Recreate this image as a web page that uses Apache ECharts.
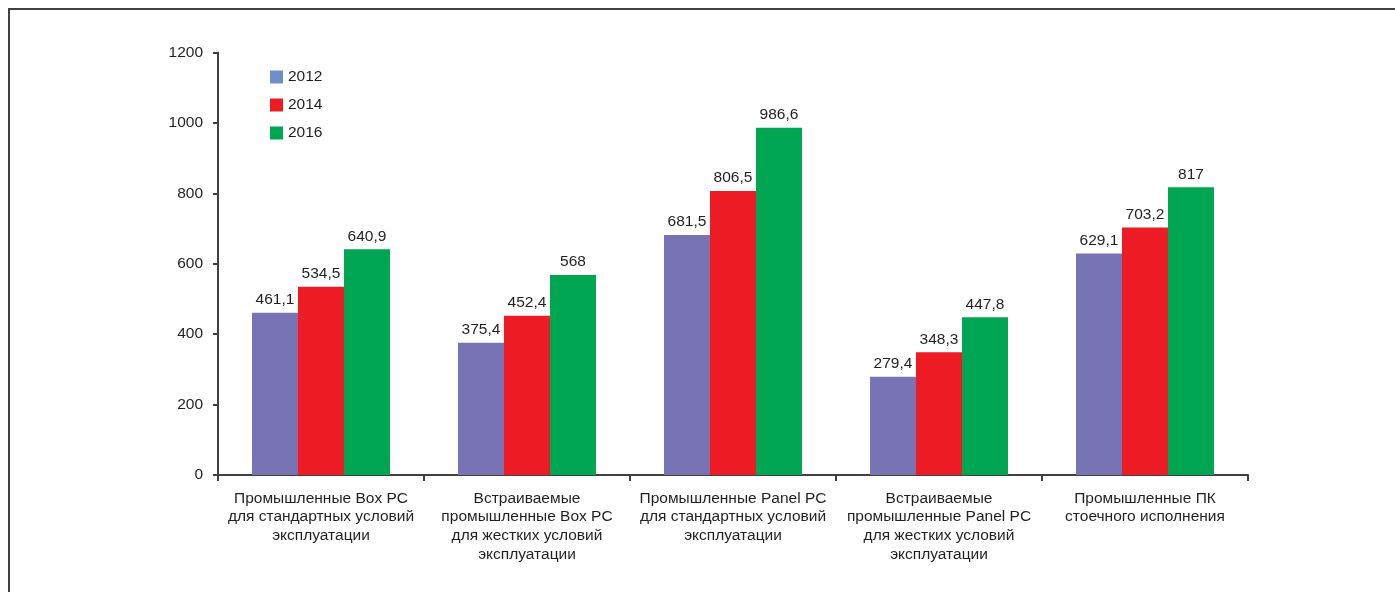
<!DOCTYPE html>
<html><head><meta charset="utf-8">
<script src="https://cdn.jsdelivr.net/npm/echarts@6/dist/echarts.min.js"></script>
<style>html,body{margin:0;padding:0;background:#fff}#c{width:1395px;height:592px}</style>
</head><body><div id="c"></div>
<script>
const categories = [
  "Промышленные Box PC\nдля стандартных условий\nэксплуатации",
  "Встраиваемые\nпромышленные Box PC\nдля жестких условий\nэксплуатации",
  "Промышленные Panel PC\nдля стандартных условий\nэксплуатации",
  "Встраиваемые\nпромышленные Panel PC\nдля жестких условий\nэксплуатации",
  "Промышленные ПК\nстоечного исполнения"
];
const seriesNames = ["2012", "2014", "2016"];
const values2012 = [461.1, 375.4, 681.5, 279.4, 629.1];
const values2014 = [534.5, 452.4, 806.5, 348.3, 703.2];
const values2016 = [640.9, 568, 986.6, 447.8, 817];
const yTicks = [0, 200, 400, 600, 800, 1000, 1200];

const barColors = ["#7773B4", "#ED1C24", "#00A651"];
const legendColors = ["#6F8FCB", "#ED1C24", "#00A651"];
const font = "'Liberation Sans', Arial, sans-serif";
const fs = 15.5;
const fmt = v => String(v).replace('.', ',');

const chart = echarts.init(document.getElementById('c'), null, {renderer: 'canvas'});
const mk = (name, data, i) => ({
  name, type: 'bar', data, barWidth: 46, barGap: '0%',
  itemStyle: {color: barColors[i]},
  label: {show: true, position: 'top', distance: 5, color: '#231F20', fontSize: fs, fontFamily: font,
    formatter: p => fmt(p.value)}
});
chart.setOption({
  animation: false,
  graphic: [{type: 'rect', shape: {x: 9, y: 9, width: 1500, height: 700},
    style: {fill: 'none', stroke: '#404040', lineWidth: 2}, silent: true}],
  grid: {left: 218, right: 147, top: 52.5, bottom: 117, containLabel: false},
  legend: {
    orient: 'vertical', left: 265, top: 64, itemWidth: 13, itemHeight: 13, itemGap: 12,
    icon: 'rect',
    textStyle: {fontSize: fs, fontFamily: font, color: '#231F20', padding: [0, 0, 0, 0]},
    data: seriesNames.map((n, i) => ({name: n, itemStyle: {color: legendColors[i]}}))
  },
  xAxis: {
    type: 'category', data: categories,
    axisLine: {lineStyle: {color: '#404040', width: 2}},
    axisTick: {show: true, length: 6, lineStyle: {color: '#404040', width: 2}},
    axisLabel: {fontSize: fs, fontFamily: font, color: '#231F20', lineHeight: 18.7, margin: 14, interval: 0}
  },
  yAxis: {
    type: 'value', min: yTicks[0], max: yTicks[yTicks.length - 1], interval: 200,
    splitLine: {show: false},
    axisLine: {show: true, lineStyle: {color: '#404040', width: 2}},
    axisTick: {show: true, length: 5, lineStyle: {color: '#404040', width: 2}},
    axisLabel: {fontSize: fs, fontFamily: font, color: '#231F20', margin: 15, formatter: v => String(v)}
  },
  series: [mk(seriesNames[0], values2012, 0), mk(seriesNames[1], values2014, 1), mk(seriesNames[2], values2016, 2)]
});
</script></body></html>
